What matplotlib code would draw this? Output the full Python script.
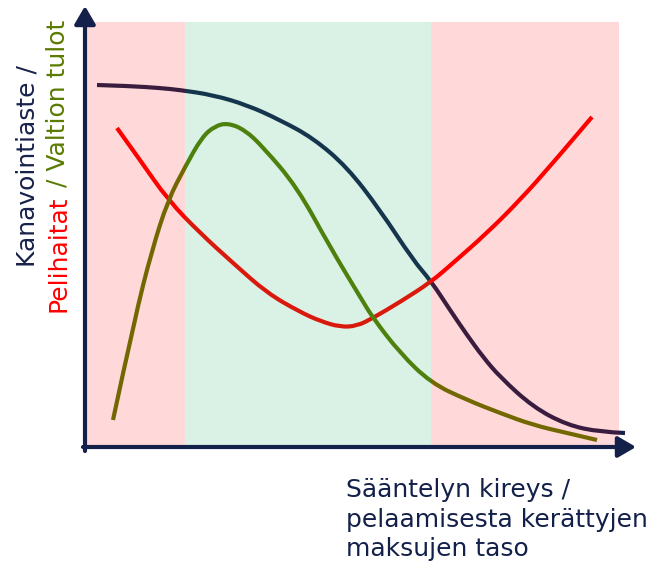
import matplotlib
matplotlib.use("Agg")
import matplotlib.pyplot as plt
from matplotlib.patches import Rectangle, PathPatch
from matplotlib.path import Path

# ---- data (conceptual curves) ----
navy_x = [12, 45, 75, 95, 128, 162, 195, 228, 262, 295, 328, 346, 365, 382, 398, 415, 448, 482, 515, 540]
navy_y = [362, 361, 359, 357, 352, 342, 327, 309, 280, 237, 187, 166, 137, 112, 90, 70, 40, 22, 15, 14]

red_x = [32, 55, 83, 115, 148, 182, 215, 235, 255, 272, 288, 315, 346, 368, 402, 435, 468, 507]
red_y = [319, 287, 247, 214, 184, 154, 135, 126, 120, 121, 129, 145, 165, 184, 214, 247, 284, 330]

olive_x = [28, 50, 67, 83, 100, 117, 130, 143, 160, 178, 212, 245, 277, 288, 315, 346, 382, 415, 448, 482, 512]
olive_y = [27, 130, 197, 247, 280, 310, 321, 324, 317, 300, 260, 200, 147, 129, 94, 64, 47, 34, 22, 14, 7]

zone_edges = [1, 100, 346, 534]
zone_colors = ["#FF0000", "#08A859", "#FF0000"]
zone_bottom, zone_top = 2, 425

xlabel_lines = ["Sääntelyn kireys /", "pelaamisesta kerättyjen", "maksujen taso"]
ylabel_line1 = "Kanavointiaste /"
ylabel_part_a = "Pelihaitat"
ylabel_part_b = " / Valtion tulot"

navy = "#17214A"
axis_col = "#13204A"
red = "#FF0000"
olive = "#5A7A00"

W, H = 653, 562
fig = plt.figure(figsize=(W / 100, H / 100), dpi=100)
ax = fig.add_axes([85 / W, (H - 447) / H, 550 / W, 440 / H])
ax.set_xlim(0, 550)
ax.set_ylim(0, 440)
ax.axis("off")


def smooth_curve(xs, ys, color):
    pts = list(zip(xs, ys))
    verts = [pts[0]]
    codes = [Path.MOVETO]
    for i in range(1, len(pts) - 1):
        mid = ((pts[i][0] + pts[i + 1][0]) / 2, (pts[i][1] + pts[i + 1][1]) / 2)
        if i == len(pts) - 2:
            mid = pts[-1]
        verts += [pts[i], mid]
        codes += [Path.CURVE3, Path.CURVE3]
    patch = PathPatch(Path(verts, codes), facecolor="none", edgecolor=color, lw=3.0,
                      capstyle="butt", joinstyle="round", zorder=2)
    ax.add_patch(patch)


smooth_curve(navy_x, navy_y, navy)
smooth_curve(red_x, red_y, red)
smooth_curve(olive_x, olive_y, olive)

for i, c in enumerate(zone_colors):
    ax.add_patch(Rectangle((zone_edges[i], zone_bottom), zone_edges[i + 1] - zone_edges[i],
                           zone_top - zone_bottom, facecolor=c, alpha=0.15, lw=0, zorder=3))

arrow_kw = dict(arrowstyle="-|>,head_length=0.6,head_width=0.35", lw=3, color=axis_col,
                mutation_scale=18, shrinkA=0, shrinkB=0)
ax.annotate("", xy=(0, 441), xytext=(0, -4), arrowprops=arrow_kw, annotation_clip=False, zorder=4)
ax.annotate("", xy=(551, 0), xytext=(-2, 0), arrowprops=arrow_kw, annotation_clip=False, zorder=4)

fs = 18
font = "DejaVu Sans"


def fx(px):
    return px / W


def fy(py):
    return (H - py) / H


# x label, one line at a time
for line, base in zip(xlabel_lines, [497, 527, 556]):
    fig.text(fx(346), fy(base), line, ha="left", va="baseline", fontsize=fs,
             color=axis_col, family=font)

# y label line 1
fig.text(fx(35), fy(166), ylabel_line1, rotation=90, rotation_mode="anchor",
         ha="center", va="baseline", fontsize=fs, color=navy, family=font)

# y label line 2 (two colours)
renderer = fig.canvas.get_renderer()
full = fig.text(fx(65), fy(166), ylabel_part_a + ylabel_part_b, rotation=90, rotation_mode="anchor",
                ha="center", va="baseline", fontsize=fs, color="none", family=font)
bb = full.get_window_extent(renderer)
full.remove()
fig.text(fx(65), bb.y0 / H, ylabel_part_a, rotation=90, rotation_mode="anchor",
         ha="left", va="baseline", fontsize=fs, color=red, family=font)
fig.text(fx(65), bb.y1 / H, ylabel_part_b, rotation=90, rotation_mode="anchor",
         ha="right", va="baseline", fontsize=fs, color=olive, family=font)

fig.savefig("out.png", dpi=100)
